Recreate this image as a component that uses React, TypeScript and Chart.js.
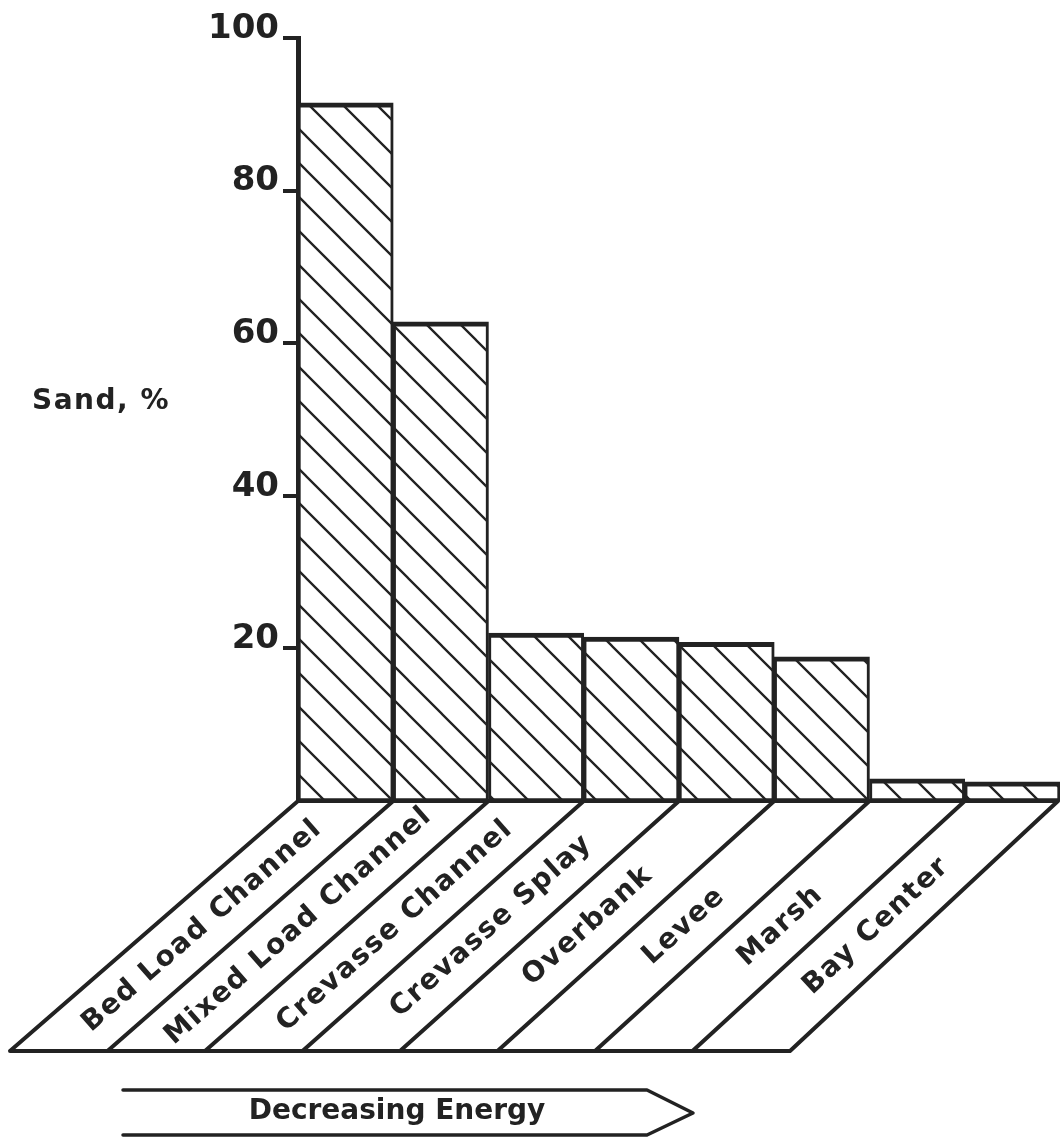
import React, { useEffect, useRef } from 'react';
import { Chart, registerables } from 'chart.js';

Chart.register(...registerables);

// ---- data ----
const categories = [
  'Bed Load Channel',
  'Mixed Load Channel',
  'Crevasse Channel',
  'Crevasse Splay',
  'Overbank',
  'Levee',
  'Marsh',
  'Bay Center',
];
const sandPercent = [91.5, 62.8, 22.0, 21.5, 20.8, 18.9, 2.9, 2.5];
const yTicks = [20, 40, 60, 80, 100];
const yAxisTitle = 'Sand, %';
const arrowLabel = 'Decreasing Energy';

const INK = '#222222';
const FONT = "'DejaVu Sans', sans-serif";

function makeHatch(): CanvasPattern | string {
  const s = 34;
  const c = document.createElement('canvas');
  c.width = s;
  c.height = s;
  const g = c.getContext('2d');
  if (!g) return '#ffffff';
  g.fillStyle = '#ffffff';
  g.fillRect(0, 0, s, s);
  g.strokeStyle = INK;
  g.lineWidth = 2.3;
  g.beginPath();
  g.moveTo(-2, -2);
  g.lineTo(s + 2, s + 2);
  g.moveTo(-2, s - 2);
  g.lineTo(2, s + 2);
  g.moveTo(s - 2, -2);
  g.lineTo(s + 2, 2);
  g.stroke();
  return g.createPattern(c, 'repeat') || '#ffffff';
}

function spacing(ctx: any, px: number) {
  if ('letterSpacing' in ctx) ctx.letterSpacing = px + 'px';
}

const floorPlugin = {
  id: 'floorPlugin',
  afterDatasetsDraw(chart: any) {
    const { ctx } = chart;
    const xs = chart.scales.x;
    const ys = chart.scales.y;
    const labels: string[] = chart.data.labels;
    const n = labels.length;
    const y0 = ys.getPixelForValue(0);
    const depth = 250;
    const y1 = y0 + depth;
    const half = (xs.getPixelForValue(1) - xs.getPixelForValue(0)) / 2;
    const tops: number[] = [];
    for (let i = 0; i < n; i++) tops.push(xs.getPixelForValue(i) - half);
    tops.push(xs.getPixelForValue(n - 1) + half - 2);
    const bottomLeft = 10;
    const bottomStep = 97.5;
    const bottoms = tops.map((_, i) => bottomLeft + i * bottomStep);

    ctx.save();
    ctx.strokeStyle = INK;
    ctx.lineCap = 'round';
    ctx.lineJoin = 'round';
    ctx.lineWidth = 4;
    ctx.beginPath();
    ctx.moveTo(tops[0], y0);
    ctx.lineTo(tops[n], y0);
    ctx.moveTo(bottoms[0], y1);
    ctx.lineTo(bottoms[n], y1);
    for (let i = 0; i <= n; i++) {
      ctx.moveTo(tops[i], y0);
      ctx.lineTo(bottoms[i], y1);
    }
    ctx.stroke();

    ctx.fillStyle = INK;
    ctx.font = `bold 28px ${FONT}`;
    spacing(ctx, 1.5);
    ctx.textAlign = 'center';
    ctx.textBaseline = 'middle';
    for (let i = 0; i < n; i++) {
      const tm = (tops[i] + tops[i + 1]) / 2;
      const bm = (bottoms[i] + bottoms[i + 1]) / 2;
      const cx = (tm + bm) / 2;
      const cy = (y0 + y1) / 2;
      const ang = Math.atan2(y1 - y0, tm - bm);
      ctx.save();
      ctx.translate(cx, cy);
      ctx.rotate(-ang);
      ctx.fillText(labels[i], 0, 0);
      ctx.restore();
    }
    ctx.restore();
  },
  afterDraw(chart: any) {
    const { ctx } = chart;
    ctx.save();
    ctx.fillStyle = INK;
    ctx.strokeStyle = INK;
    // y-axis title (horizontal)
    ctx.font = `bold 28px ${FONT}`;
    spacing(ctx, 1.5);
    ctx.textAlign = 'left';
    ctx.textBaseline = 'alphabetic';
    ctx.fillText(yAxisTitle, 32, 409);

    // energy arrow
    ctx.lineWidth = 3.5;
    ctx.lineJoin = 'round';
    ctx.lineCap = 'round';
    ctx.beginPath();
    ctx.moveTo(123, 1090);
    ctx.lineTo(647, 1090);
    ctx.lineTo(693, 1113);
    ctx.lineTo(647, 1135);
    ctx.lineTo(123, 1135);
    ctx.stroke();
    ctx.font = `bold 28px ${FONT}`;
    spacing(ctx, 0);
    ctx.textAlign = 'center';
    ctx.fillText(arrowLabel, 397, 1119);
    ctx.restore();
  },
};

export default function App() {
  const ref = useRef<HTMLCanvasElement | null>(null);
  useEffect(() => {
    if (!ref.current) return;
    const chart = new Chart(ref.current, {
      type: 'bar',
      data: {
        labels: categories,
        datasets: [
          {
            label: yAxisTitle,
            data: sandPercent,
            backgroundColor: makeHatch() as any,
            borderColor: INK,
            borderWidth: { top: 5, left: 3, right: 3, bottom: 3 } as any,
            borderSkipped: false,
            categoryPercentage: 1,
            barPercentage: 1,
          },
        ],
      },
      options: {
        responsive: false,
        animation: false,
        events: [],
        layout: { padding: { left: 0, right: 1, top: 38, bottom: 338 } },
        plugins: {
          legend: { display: false },
          tooltip: { enabled: false },
        },
        scales: {
          x: { display: false, offset: true },
          y: {
            min: 0,
            max: 100,
            afterBuildTicks: (scale: any) => {
              scale.ticks = yTicks.map((v) => ({ value: v }));
            },
            afterFit: (scale: any) => {
              scale.width = 298;
            },
            border: { display: true, color: INK, width: 5 },
            grid: {
              display: true,
              drawOnChartArea: false,
              drawTicks: true,
              tickLength: 15,
              lineWidth: 4,
              color: INK,
            },
            ticks: {
              color: INK,
              font: { family: FONT, size: 34, weight: 'bold' },
              padding: 4,
              labelOffset: -9,
            },
          },
        },
      },
      plugins: [floorPlugin],
    });
    return () => chart.destroy();
  }, []);
  return (
    <div style={{ position: 'absolute', left: 0, top: 0, width: 1061, height: 1139 }}>
      <canvas ref={ref} width={1061} height={1139} style={{ display: 'block', width: 1061, height: 1139 }} />
    </div>
  );
}
